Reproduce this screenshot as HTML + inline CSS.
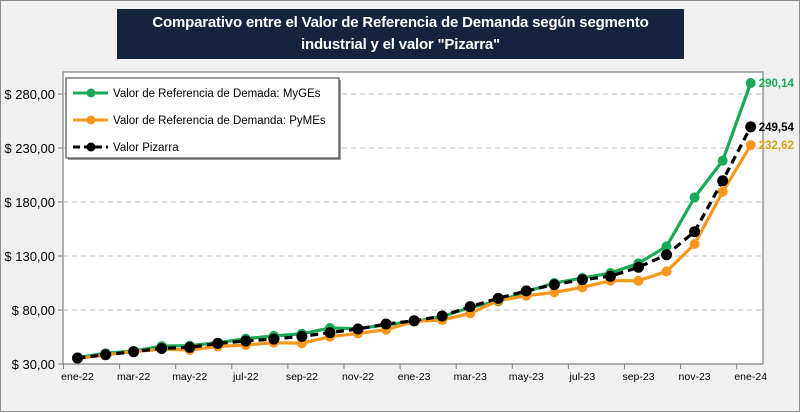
<!DOCTYPE html>
<html><head><meta charset="utf-8"><style>
body{margin:0;background:#fff}
#wrap{position:relative;width:798px;height:410px;background:#f0f0f0;border:1px solid #8c8c8c}
#title{position:absolute;left:116px;top:8px;width:567px;height:50px;background:#14243f;color:#fff;font:bold 15px "Liberation Sans",sans-serif;text-align:center;line-height:22px;padding-top:3px;box-sizing:border-box;white-space:nowrap;letter-spacing:-0.2px}
svg{position:absolute;left:0;top:0}
</style></head><body>
<div id="wrap">
<div id="title">Comparativo entre el Valor de Referencia de Demanda según segmento<br>industrial y el valor "Pizarra"</div>
<svg id="c" width="800" height="412" font-family="Liberation Sans, sans-serif"></svg>
</div>
<script>
const months=["ene-22","feb-22","mar-22","abr-22","may-22","jun-22","jul-22","ago-22","sep-22","oct-22","nov-22","dic-22","ene-23","feb-23","mar-23","abr-23","may-23","jun-23","jul-23","ago-23","sep-23","oct-23","nov-23","dic-23","ene-24"];
const myges=[36,40,42,46.6,47,49.7,53.5,56,58,63.3,62.7,66.3,69.3,73.8,82.4,88,97,105,109.6,114.2,123.2,138.9,184.3,218.2,290.14];
const pymes=[35,38.5,41.4,43.8,43,46.3,47.5,49.8,49.2,55.3,58.3,61.7,69.4,70.7,76.9,88.6,93.2,96.3,101,107.1,107.1,115.7,141.1,189.5,232.62];
const pizarra=[35.5,38.6,41.4,44.4,45.4,49.1,51.3,53.1,55.6,59,62.4,67,70,74.4,83.1,90.8,97.7,103.5,108.1,111.2,119.6,131.2,152.5,199.7,249.54];
const yTicks=[30,80,130,180,230,280];
const yLabels=["$ 30,00","$ 80,00","$ 130,00","$ 180,00","$ 230,00","$ 280,00"];
const ns="http://www.w3.org/2000/svg";
const svg=document.getElementById('c');
const X0=76.5,DX=28.05,PL=62,PR=762,PT=71,PB=363;
const x=i=>X0+i*DX;
const y=v=>363-(v-30)*1.08;
function el(t,a,p){const e=document.createElementNS(ns,t);for(const k in a)e.setAttribute(k,a[k]);(p||svg).appendChild(e);return e;}
const pa=el('rect',{x:PL,y:PT,width:PR-PL,height:PB-PT,fill:'#fff',stroke:'#7f7f7f','stroke-width':1.2});


yTicks.forEach((t,i)=>{
  if(i>0){const g=el('line',{x1:PL,x2:PR,y1:y(t),y2:y(t),stroke:'#bfbfbf','stroke-dasharray':'5,4'});
  
  }
  el('line',{x1:PL-5,x2:PL,y1:y(t),y2:y(t),stroke:'#7f7f7f'});
  const tx=el('text',{x:PL-8,y:y(t)+5,'text-anchor':'end','font-size':13,fill:'#000'});tx.textContent=yLabels[i];
  
  
});
months.forEach((m,i)=>{
  if(i%2==0){el('line',{x1:x(i)-DX/2,x2:x(i)-DX/2,y1:PB,y2:PB+5,stroke:'#7f7f7f'});
  const tx=el('text',{x:x(i),y:PB+16,'text-anchor':'middle','font-size':10.5,fill:'#000'});tx.textContent=m;
  
  }
});
function series(d,col,dash,name,r){
  const g=el('g',{});
  
  
  el('polyline',{points:d.map((v,i)=>x(i)+','+y(v)).join(' '),fill:'none',stroke:col,'stroke-width':3.2,'stroke-dasharray':dash||''},g);
  d.forEach((v,i)=>{const c=el('circle',{cx:x(i),cy:y(v),r:r,fill:col},g);
  
  });
}
series(myges,'#1aa956','','series-myges',5);
series(pymes,'#f7971d','','series-pymes',5);
series(pizarra,'#000','8,5','series-pizarra',5.5);
const last=months.length-1;
[[myges,'#1aa956'],[pizarra,'#000'],[pymes,'#d9a01a']].forEach(([d,c])=>{
  const t=el('text',{x:x(last)+8,y:y(d[last])+4,'font-size':11.5,'font-weight':'bold',fill:c});
  t.textContent=d[last].toFixed(2).replace('.',',');
  
  
});
const lg=el('g',{});


el('rect',{x:67,y:79,width:273,height:80,fill:'#999'},lg);
el('rect',{x:65,y:77,width:273,height:80,fill:'#fff',stroke:'#333','stroke-width':1},lg);
[['#1aa956','','Valor de Referencia de Demada: MyGEs'],['#f7971d','','Valor de Referencia de Demanda: PyMEs'],['#000','7,4','Valor Pizarra']].forEach((e,i)=>{
  const yy=92+i*27;
  const g=el('g',{},lg);
  
  
  el('line',{x1:72,x2:107,y1:yy,y2:yy,stroke:e[0],'stroke-width':3,'stroke-dasharray':e[1]},g);
  el('circle',{cx:90,cy:yy,r:4.5,fill:e[0]},g);
  const t=el('text',{x:112,y:yy+4,'font-size':11.5,fill:'#000'},g);t.textContent=e[2];
});
</script>
</body></html>
